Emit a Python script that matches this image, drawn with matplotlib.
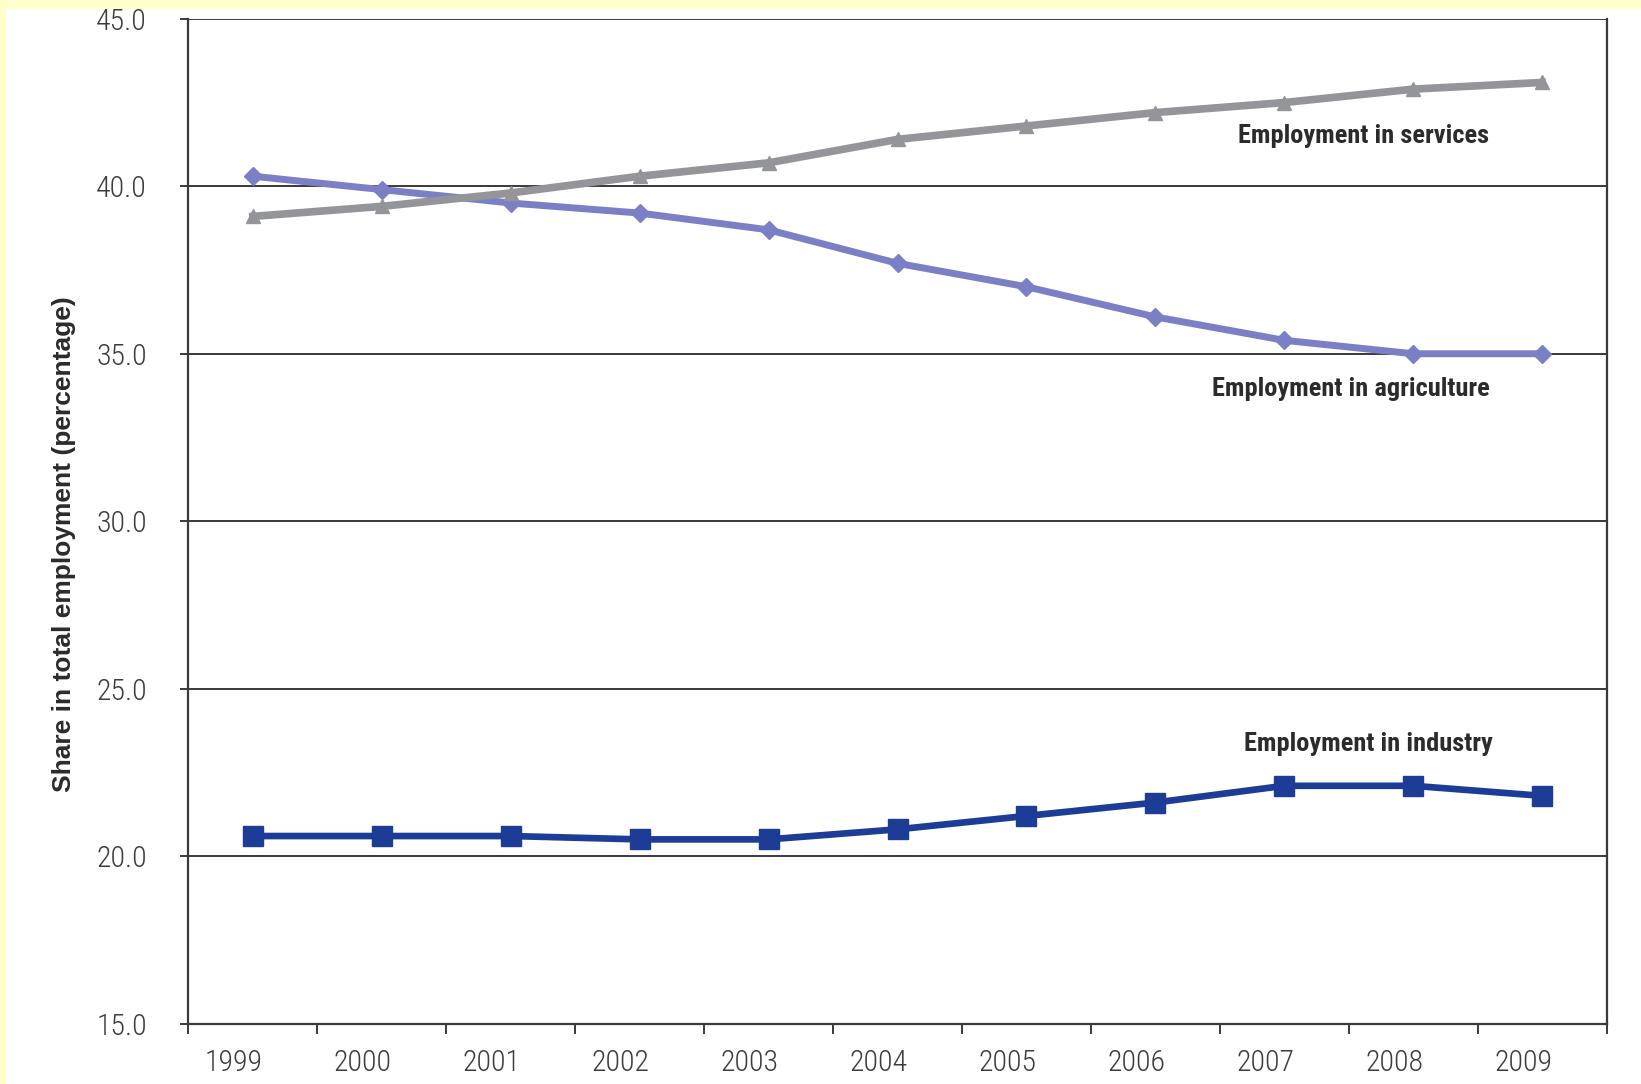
import matplotlib
matplotlib.use("Agg")
import matplotlib.pyplot as plt
import matplotlib.transforms as mtransforms
from matplotlib import font_manager
from matplotlib.patches import Rectangle

years = ["1999", "2000", "2001", "2002", "2003", "2004", "2005", "2006", "2007", "2008", "2009"]
services = [39.1, 39.4, 39.8, 40.3, 40.7, 41.4, 41.8, 42.2, 42.5, 42.9, 43.1]
agriculture = [40.3, 39.9, 39.5, 39.2, 38.7, 37.7, 37.0, 36.1, 35.4, 35.0, 35.0]
industry = [20.6, 20.6, 20.6, 20.5, 20.5, 20.8, 21.2, 21.6, 22.1, 22.1, 21.8]
yticks = [15, 20, 25, 30, 35, 40, 45]

# pick a narrow face if one is around
installed = {f.name for f in font_manager.fontManager.ttflist}
narrow_names = ["Liberation Sans Narrow", "DejaVu Sans Condensed", "Roboto Condensed",
                "Open Sans Condensed", "Noto Sans Condensed", "Liberation Sans"]
narrow = [n for n in narrow_names if n in installed] + ["DejaVu Sans"]
stretch = "condensed"

tick_col = "#3c3c3c"
line_col = "#3a3a3a"

fig = plt.figure(figsize=(16.41, 10.84), dpi=100, facecolor="white")
# pale yellow page edge on top and left
fig.patches.append(Rectangle((0, 1 - 9 / 1084), 1, 9 / 1084, transform=fig.transFigure,
                             facecolor="#ffffcc", edgecolor="none", zorder=0))
fig.patches.append(Rectangle((0, 0), 6 / 1641, 1, transform=fig.transFigure,
                             facecolor="#ffffcc", edgecolor="none", zorder=0))

ax = fig.add_axes([188.4 / 1641, 60.4 / 1084, 1418.2 / 1641, 1004.8 / 1084])
x = list(range(len(years)))

ax.plot(x, agriculture, color="#7b80c6", lw=5, marker="D", ms=9, zorder=3)
ax.plot(x, services, color="#939598", lw=5.5, marker="^", ms=10, zorder=4)
ax.plot(x, industry, color="#1d3c96", lw=4.8, marker="s", ms=14, zorder=5)

ax.set_xlim(-0.5, len(years) - 0.5)
ax.set_ylim(15, 45)

ax.set_yticks(yticks)
ax.set_yticklabels([f"{v:.1f}" for v in yticks])
ax.tick_params(axis="y", direction="out", length=6, width=1.4, color=line_col,
               pad=24, labelsize=21.5, labelcolor=tick_col)
for lbl in ax.get_yticklabels():
    lbl.set_family(narrow)
    lbl.set_stretch(stretch)
    lbl.set_weight("light")

ax.set_xticks(x)
ax.set_xticklabels(years)
ax.set_xticks([i - 0.5 for i in range(len(years) + 1)], minor=True)
ax.tick_params(axis="x", which="major", length=0, pad=18, labelsize=21.5, labelcolor=tick_col)
ax.tick_params(axis="x", which="minor", direction="out", length=7, width=1.4, color=line_col)
shift = mtransforms.ScaledTranslation(-0.19, 0, fig.dpi_scale_trans)
for lbl in ax.get_xticklabels():
    lbl.set_family(narrow)
    lbl.set_stretch(stretch)
    lbl.set_weight("light")
    lbl.set_transform(lbl.get_transform() + shift)

for v in yticks[1:]:
    ax.axhline(v, color="#2a2a2a", lw=1.3, zorder=1)

ax.spines["top"].set_visible(False)
for s in ["left", "right", "bottom"]:
    ax.spines[s].set_color(line_col)
    ax.spines[s].set_linewidth(1.6)

lab = dict(ha="center", va="center", fontsize=19, fontweight="bold", fontstretch=stretch,
           color="#2b2b2b", family=narrow, zorder=6)
ax.text(8.615, 41.5, "Employment in services", **lab)
ax.text(8.52, 33.94, "Employment in agriculture", **lab)
ax.text(8.65, 23.34, "Employment in industry", **lab)

fig.text(64 / 1641, 1 - 544 / 1084, "Share in total employment (percentage)",
         rotation=90, ha="center", va="center", fontsize=19, fontweight="bold",
         color="#2b2b2b", family=["Liberation Sans", "DejaVu Sans"])

fig.savefig("out.png", dpi=100, facecolor=fig.get_facecolor())
